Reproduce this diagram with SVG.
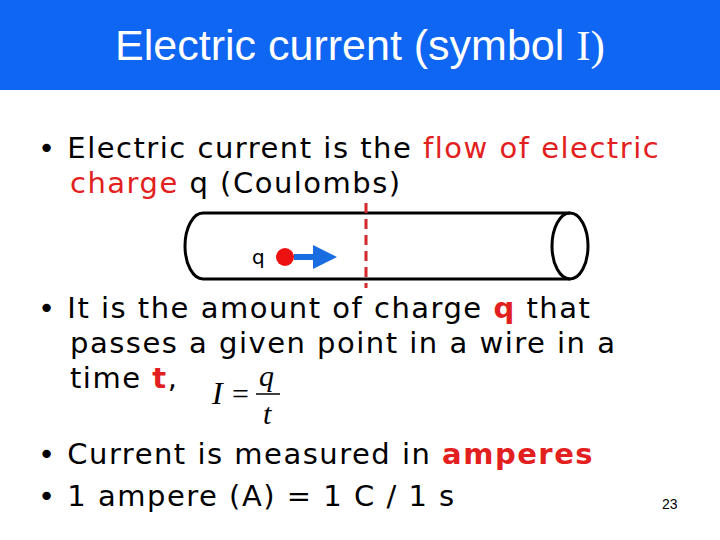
<svg xmlns="http://www.w3.org/2000/svg" width="720" height="540" viewBox="0 0 720 540">
<style>
.b{font-family:"DejaVu Sans",Verdana,sans-serif;font-size:29px;fill:#000;letter-spacing:1.5px}
.r{fill:#e32020}
.bd{font-weight:bold}
.m{font-family:"Liberation Serif",serif;font-style:italic;fill:#000}
</style>
<defs><marker id="ah" markerWidth="4" markerHeight="4" refX="2" refY="2" orient="auto" markerUnits="strokeWidth"><path d="M0,0 L4,2 L0,4 z" fill="#1a6de0"/></marker></defs>
<rect x="0" y="0" width="720" height="90" fill="#0f66f2"/>
<text x="360" y="60" text-anchor="middle" font-family="Liberation Sans,Arial,sans-serif" font-size="43" fill="#fff">Electric current (symbol <tspan font-family="Liberation Serif,serif">I)</tspan></text>
<g id="bullet1"><text class="b" x="38" y="158">• Electric current is the <tspan class="r">flow of electric</tspan></text>
<text class="b" x="70" y="193"><tspan class="r">charge</tspan> q (Coulombs)</text></g>
<g id="tube" fill="none" stroke="#000" stroke-width="3">
<path d="M570,213 L203,213 A18,33 0 0 0 203,279 L570,279"/>
<ellipse cx="570" cy="246" rx="18" ry="33"/>
</g>
<g id="connectors"><line x1="366" y1="203" x2="366" y2="288" stroke="#d22a2a" stroke-width="3" stroke-dasharray="10,6"/>
<line x1="294" y1="257" x2="325" y2="257" stroke="#1a6de0" stroke-width="6" marker-end="url(#ah)"/></g>
<g id="charge"><text x="252" y="264" font-family="DejaVu Sans,sans-serif" font-size="20">q</text><circle cx="285" cy="257" r="9" fill="#ee1111"/></g>
<g id="bullet2"><text class="b" x="38" y="318">• It is the amount of charge <tspan class="r bd">q</tspan> that</text>
<text class="b" x="70" y="353">passes a given point in a wire in a</text>
<text class="b" x="70" y="388">time <tspan class="r bd">t</tspan>,</text></g>
<g id="formula"><text class="m" x="212" y="404" font-size="32">I</text><text x="232" y="404" font-family="Liberation Serif,serif" font-size="30">=</text>
<text class="m" x="259" y="386" font-size="30">q</text><line x1="256" y1="394" x2="280" y2="394" stroke="#000" stroke-width="1.5"/><text class="m" x="263" y="424" font-size="30">t</text></g>
<g id="bullet3"><text class="b" x="38" y="464">• Current is measured in <tspan class="r bd">amperes</tspan></text>
<text class="b" x="38" y="506">• 1 ampere (A) = 1 C / 1 s</text></g>
<text x="662" y="509" font-family="Liberation Sans,Arial,sans-serif" font-size="14">23</text>
</svg>
